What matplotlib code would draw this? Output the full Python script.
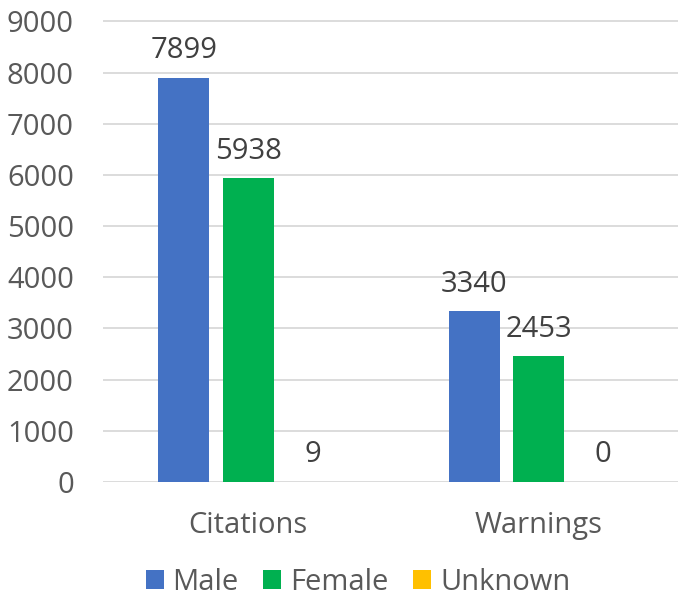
import matplotlib.pyplot as plt
import numpy as np

# Chart data
categories = ['Citations', 'Warnings']
series_names = ['Male', 'Female', 'Unknown']
male = [7899, 3340]
female = [5938, 2453]
unknown = [9, 0]
colors = ['#4472C4', '#00B050', '#FFC000']

plt.rcParams['font.family'] = ['Open Sans', 'DejaVu Sans']


def main():
    fig = plt.figure(figsize=(6.78, 6.0), dpi=100)
    ax = fig.add_axes([0.152, 0.1967, 0.848, 0.7718])

    x = np.arange(len(categories))
    width = 0.175
    step = 0.222
    values = [male, female, unknown]

    for i, (name, vals, col) in enumerate(zip(series_names, values, colors)):
        pos = x + (i - 1) * step
        bars = ax.bar(pos, vals, width, color=col, label=name, zorder=3)
        for rect, v in zip(bars, vals):
            ax.annotate(str(v), (rect.get_x() + rect.get_width() / 2, rect.get_height()),
                        xytext=(0, 9), textcoords='offset points',
                        ha='center', va='bottom', fontsize=21, color='#404040')

    ax.set_xlim(-0.5, 1.48)
    ax.set_ylim(0, 9050)
    ax.set_yticks(range(0, 9001, 1000))
    ax.set_xticks(x)
    ax.set_xticklabels(categories)
    ax.tick_params(axis='both', length=0, labelsize=21, labelcolor='#595959')
    ax.tick_params(axis='y', pad=21)
    ax.tick_params(axis='x', pad=21)
    ax.grid(axis='y', color='#D9D9D9', linewidth=1.3, zorder=0)
    for s in ax.spines.values():
        s.set_visible(False)

    leg = fig.legend(loc='center', bbox_to_anchor=(0.528, 0.03), ncol=3, frameon=False,
                     fontsize=21, handlelength=0.62, handleheight=0.62,
                     handletextpad=0.3, columnspacing=0.85, borderpad=0.2)
    for t in leg.get_texts():
        t.set_color('#595959')

    fig.savefig('out.png', dpi=100)


if __name__ == "__main__":
    main()
